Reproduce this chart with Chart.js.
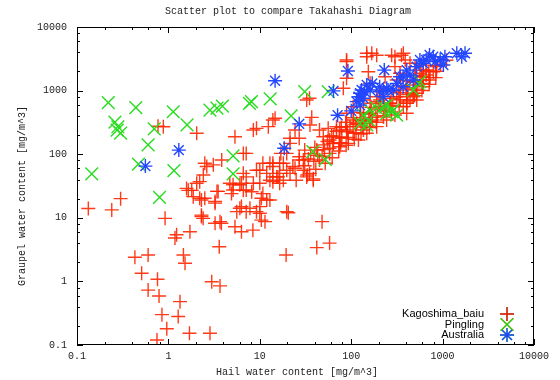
<!DOCTYPE html>
<html>
<head>
<meta charset="utf-8">
<script src="https://cdn.jsdelivr.net/npm/chart.js@4/dist/chart.umd.min.js"></script>
<style>
  html, body { margin: 0; padding: 0; background: #fff; }
  canvas { display: block; }
</style>
</head>
<body>
<canvas id="c" width="560" height="380"></canvas>
<script>
// data: [hail, graupel] in mg/m^3
const kagoshima = [
  [0.133,14],[0.24,13.3],[0.30,20],[0.43,2.4],[0.6,2.6],[0.51,1.34],[0.6,0.73],[0.76,1.08],
  [0.79,0.59],[0.85,0.30],[0.96,0.18],[0.75,0.12],[1.28,0.28],[1.34,0.48],[1.7,0.153],[2.85,0.153],
  [2.98,0.99],[3.67,0.85],[1.46,2.6],[1.52,1.93],[0.92,9.8],[1.23,5.4],[1.18,4.8],[1.72,6.05],
  [2.3,11],[2.4,9.8],[3.24,8.2],[3.8,8.2],[3.6,3.5],[20.5,12],[19.4,2.6],[48,8.7],[42,3.4],[58,4],
  [1.65,27],[2.2,37],[1.87,21.5],[2.2,20.3],[2.5,20.3],[3.24,17],[3.4,26],[4.9,24],[5.6,12.5],
  [6.3,15],[7.1,12.5],[7.8,14.1],[9.2,12.5],[10,15],[10.4,20.3],[11.9,19],[12.9,19],[10,11.8],
  [11.4,8.7],[5.35,7.25],[6.3,6.05],[8.4,6.4],[5.1,33],[6.05,33],[7.1,27.4],[8.15,25.7],[10,35],
  [13.9,37],[16.5,35],[0.88,270],[0.77,275],[2.04,213],[5.35,188],[6.6,103],[8.5,240],[9.2,255],
  [12.4,271],[14.7,367],[32.6,710],[24.3,240],[21.4,178],[3.83,81],[3.1,68],[2.63,64],[2.41,47],
  [2.04,35],[1.58,29],[5.1,27.4],[6.3,35],[7.1,44],[10,56],[12.9,72],[13.9,44],[16.5,50],[23,64],
  [27,81],[31,116],[30,56],[19.7,103],[4.7,35],[1.8,27],[2.3,19],[3.24,18],[3.5,26],[2.3,10.5],
  [3.67,8.7],[6.05,14.1],[10.4,9.2],[19.7,12.5],[6.6,27],[7.1,103],[2.5,72],[9.2,56],[11.9,50],
  [15.3,44],[10.8,24],[12.9,39],[8.5,35],[6.6,50],[10.8,72],[13.9,64],[16.5,72],[21.4,50],
  [148,3860],[168,3860],[301,3410],[372,3860],[89,3030],[89,1560],[35,757],[37,380],[18.1,72],
  [38.5,39],[27,91],[49.5,188],[69,271],[89,240],[105,345],[136,440],[161,631],[207,711],
  [266,631],[342,802],[405,631],[478,907],[521,1225],[615,1655],[660,2110],[136,240],[405,440],
  [521,711],[75,148],[58,103],[45,81],[35,50],[25,39],[170,345],
  [148,3400],[190,3600],[89,2850],[277,3600],[355,3600],[390,3030],[82,1090],[154,1980],
  [161,1300],[235,1655],[301,2380],[440,2690],[500,2380],[580,2530],[660,1760],[720,1470],
  [615,1150],[521,907],[440,711],[372,558],[301,413],[244,345],[190,271],[148,213],[120,167],
  [93,148],[75,131],[64,148],[207,558],[266,631],[315,802],[405,1020],[478,1380],[566,1870],
  [161,440],[125,345],[97,271],[75,240],[64,188],[136,711],[105,558],[89,440],[224,1020],
  [190,802],[315,1470],[342,1870],[170,380],[244,495],[405,631],[478,802],[615,1470],[791,1982],
  [860,2380],[950,2600],[1100,3000],
  [13.9,345],[35.4,288],[45,240],[56,255],[69,230],[89,271],[115,306],[27,178],[21.4,148],
  [17,103],[13.9,72],[15.8,44],[18.1,39],[24.3,60],[32.6,44],[38.5,41],[19.7,56],[30,81],
  [42,116],[58,167],[79,178],[105,213],[141,306],[49.5,140],
  // dense part of the band
  [33,47],[31,66],[34,84],[36,102],[41,58],[39,77],[43,96],[40,128],[52,72],[48,93],[51,118],
  [55,158],[62,88],[58,124],[63,147],[61,196],[73,112],[77,152],[74,186],[78,262],[88,138],
  [93,183],[91,226],[87,318],[108,172],[113,218],[111,292],[106,375],[128,208],[133,268],
  [131,348],[127,455],[158,262],[163,328],[156,425],[166,545],[188,318],[194,402],[186,515],
  [197,672],[226,384],[234,478],[228,623],[222,815],[276,462],[285,588],[273,754],[288,995],
  [335,565],[344,718],[332,925],[347,1190],[404,682],[417,866],[398,1105],[412,1445],[495,835],
  [508,1055],[488,1345],[503,1742],[594,1005],[606,1298],[590,1655],[612,2085],[714,1255],
  [728,1602],[706,1995],[842,1598],[858,2010],[836,2495]
];
const pingling = [
  [0.22,646],[0.44,540],[0.26,320],[0.275,240],[0.30,215],[0.28,270],[1.13,465],[1.6,290],
  [0.7,250],[0.6,140],[0.47,70],[1.15,55],[0.145,49],[2.85,495],[3.9,570],[3.4,530],[8.1,670],
  [7.7,630],[13,740],[22,400],[31,960],[5.1,94],[5.1,49],[0.8,21],[56,960],[38,110],[52,83],
  [155,345],[190,530],[225,560],[277,465],[136,410],[565,1380],[125,305],[245,440],[540,1300],
  [478,1020],[161,495],[244,594],[290,495],[148,288],[315,413]
];
const australia = [
  [14.7,1430],[27,300],[18.5,124],[1.3,116],[0.56,65],[92,2030],[230,2100],[64,990],[71,410],
  [100,480],[120,800],[140,960],[125,590],[205,1150],[245,1090],[290,1020],[370,1150],[440,1760],
  [405,2100],[520,2380],[615,2690],[790,3400],[940,3030],[1020,2530],[1430,3860],[1760,3860],
  [1620,3410],[830,2850],[480,1470],[315,1300],[205,960],[115,670],[130,1020],[225,800],
  [370,1650],[565,3030],[125,907],[136,757],[253,1020],[170,1300],[342,1655],[660,3030],
  [720,3630],[1060,3400],[148,1225],[161,1020]
];
const seriesLabels = ['Kagoshima_baiu', 'Pingling', 'Australia'];
const decadeTicks = [0.1, 1, 10, 100, 1000, 10000];
const tickLabels = ['0.1', '1', '10', '100', '1000', '10000'];
const minorSteps = [2, 4, 6, 8];

const RED = 'rgba(255,38,0,0.9)';
const GREEN = 'rgb(40,220,30)';
const BLUE = 'rgb(35,70,255)';
const MONO = '"Liberation Mono", "DejaVu Sans Mono", monospace';

const toPts = arr => arr.map(p => ({ x: p[0], y: p[1] }));

// frame on all four sides with inward major/minor ticks, like gnuplot
const framePlugin = {
  id: 'frame',
  afterDatasetsDraw(chart) {
    const { ctx, chartArea: a, scales } = chart;
    ctx.save();
    ctx.strokeStyle = '#000';
    ctx.lineWidth = 1;
    ctx.strokeRect(a.left + 0.5, a.top + 0.5, a.right - a.left - 1, a.bottom - a.top - 1);
    ctx.beginPath();
    decadeTicks.forEach((d, i) => {
      const steps = i < decadeTicks.length - 1 ? [1].concat(minorSteps) : [1];
      steps.forEach(s => {
        const v = d * s;
        const len = s === 1 ? 6 : 3;
        const x = Math.round(scales.x.getPixelForValue(v)) + 0.5;
        const y = Math.round(scales.y.getPixelForValue(v)) + 0.5;
        ctx.moveTo(x, a.bottom); ctx.lineTo(x, a.bottom - len);
        ctx.moveTo(x, a.top); ctx.lineTo(x, a.top + len);
        ctx.moveTo(a.left, y); ctx.lineTo(a.left + len, y);
        ctx.moveTo(a.right, y); ctx.lineTo(a.right - len, y);
      });
    });
    ctx.stroke();
    ctx.restore();
  }
};

// title and axis labels placed where gnuplot put them
const labelPlugin = {
  id: 'labels',
  afterDraw(chart) {
    const { ctx } = chart;
    ctx.save();
    ctx.font = '10px ' + MONO;
    ctx.fillStyle = '#222';
    ctx.textAlign = 'center';
    ctx.textBaseline = 'middle';
    ctx.fillText('Scatter plot to compare Takahashi Diagram', 288, 11);
    ctx.fillText('Hail water content [mg/m^3]', 297, 372);
    ctx.translate(22, 196);
    ctx.rotate(-Math.PI / 2);
    ctx.fillText('Graupel water content [mg/m^3]', 0, 0);
    ctx.restore();
  }
};

// key in the lower right corner: right-aligned text, sample to its right
const keyPlugin = {
  id: 'key',
  afterDraw(chart) {
    const { ctx, chartArea: a } = chart;
    ctx.save();
    ctx.font = '11px "Liberation Sans", Arial, sans-serif';
    ctx.fillStyle = '#000';
    ctx.textAlign = 'right';
    ctx.textBaseline = 'middle';
    chart.data.datasets.forEach((ds, i) => {
      const y = a.bottom - 31 + i * 10.5;
      ctx.fillText(ds.label, a.right - 50, y);
      Chart.helpers.drawPoint(ctx, {
        pointStyle: ds.pointStyle,
        radius: ds.pointRadius,
        borderWidth: ds.borderWidth,
        rotation: 0
      }, a.right - 27, y);
      ctx.strokeStyle = ds.borderColor;
      ctx.lineWidth = ds.borderWidth;
      ctx.stroke();
    });
    ctx.restore();
  }
};

const logAxis = (fit, pad) => ({
  type: 'logarithmic',
  min: 0.1,
  max: 10000,
  grid: { display: false, drawTicks: false },
  border: { display: false },
  afterBuildTicks: scale => { scale.ticks = decadeTicks.map(v => ({ value: v })); },
  afterFit: fit,
  ticks: {
    autoSkip: false,
    maxRotation: 0,
    padding: pad,
    color: '#222',
    font: { family: MONO, size: 10 },
    callback: v => tickLabels[decadeTicks.indexOf(v)]
  }
});

const mark = (color) => ({ borderColor: color, backgroundColor: color, borderWidth: 1.4 });

new Chart(document.getElementById('c'), {
  type: 'scatter',
  data: {
    datasets: [
      Object.assign({ label: seriesLabels[0], data: toPts(kagoshima), pointStyle: 'cross', pointRadius: 7, order: 3 }, mark(RED)),
      Object.assign({ label: seriesLabels[1], data: toPts(pingling), pointStyle: 'crossRot', pointRadius: 9, order: 2 }, mark(GREEN)),
      Object.assign({ label: seriesLabels[2], data: toPts(australia), pointStyle: 'star', pointRadius: 7, order: 1 }, mark(BLUE))
    ]
  },
  options: {
    responsive: false,
    animation: false,
    devicePixelRatio: 1,
    layout: { padding: { left: 0, right: 26, top: 27, bottom: 0 } },
    scales: {
      x: logAxis(s => { s.height = 35; }, 5),
      y: logAxis(s => { s.width = 77; }, 10)
    },
    plugins: {
      legend: { display: false },
      tooltip: { enabled: false }
    }
  },
  plugins: [framePlugin, labelPlugin, keyPlugin]
});
</script>
</body>
</html>
